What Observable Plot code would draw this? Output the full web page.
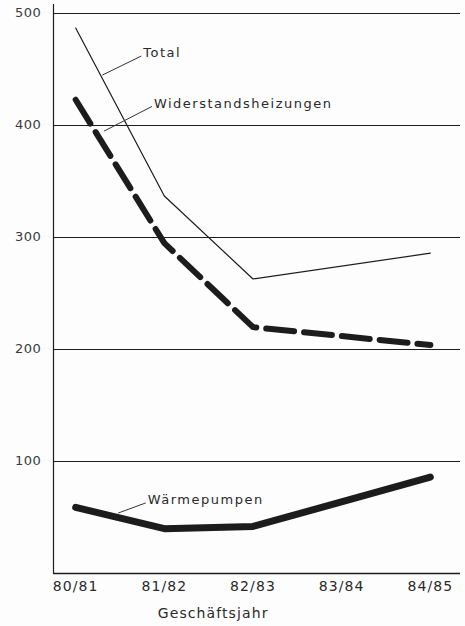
<!DOCTYPE html>
<html>
<head>
<meta charset="utf-8">
<script src="https://cdn.jsdelivr.net/npm/d3@7"></script>
<script src="https://cdn.jsdelivr.net/npm/@observablehq/plot@0.6"></script>
<style>
  html, body { margin: 0; padding: 0; background: #fdfdfd; }
  #chart svg { display: block; background: #fdfdfd; }
  #chart svg text { letter-spacing: 0.6px; }
  #chart svg .ann text { letter-spacing: 1.5px; }
  #chart svg .xlab text { letter-spacing: 1.1px; }
</style>
</head>
<body>
<div id="chart"></div>
<script>
// Categories (Geschäftsjahr)
const years = ["80/81", "81/82", "82/83", "83/84", "84/85"];
// Series values (no points drawn for 83/84 in the original; lines run straight)
const totalIdx = [0, 1, 2, 4];
const totalVals = [487, 337, 263, 286];
const widerIdx = [0, 1, 2, 4];
const widerVals = [423, 295, 220, 204];
const waermeIdx = [0, 1, 2, 4];
const waermeVals = [59, 40, 42, 86];
// y ticks / gridlines
const yTicks = [100, 200, 300, 400, 500];
// Annotation labels (data space): anchor on line -> text
const annLabels = ["Total", "Widerstandsheizungen", "Wärmepumpen"];
const annX1 = [0.30, 0.32, 0.48];
const annY1 = [445, 395, 54];
const annX2 = [0.74, 0.86, 0.79];
const annY2 = [462, 417, 63];

const toRows = (idx, vals, name) => idx.map((i, k) => ({ i, v: vals[k], name }));
const total = toRows(totalIdx, totalVals, "Total");
const wider = toRows(widerIdx, widerVals, "Widerstandsheizungen");
const waerme = toRows(waermeIdx, waermeVals, "Wärmepumpen");
const ann = annLabels.map((t, k) => ({ t, x1: annX1[k], y1: annY1[k], x2: annX2[k], y2: annY2[k] }));

const ink = "#1c1c1c";
const fontFam = "'DejaVu Sans', sans-serif";

const chart = Plot.plot({
  width: 465,
  height: 626,
  marginTop: 13,
  marginBottom: 53,
  marginLeft: 53,
  marginRight: 5,
  style: { fontFamily: fontFam, background: "#fdfdfd" },
  x: { type: "linear", domain: [-0.25, 4.34] },
  y: { domain: [0, 500] },
  marks: [
    Plot.ruleY(yTicks, { stroke: ink, strokeWidth: 1 }),
    Plot.ruleY([0], { stroke: ink, strokeWidth: 1.3 }),
    Plot.ruleX([-0.25], { y1: 0, y2: 508, stroke: ink, strokeWidth: 1.2 }),
    Plot.axisY(yTicks, {
      tickSize: 0, tickPadding: 12, fontSize: 13, fill: "#3a3a3a",
      label: null, dy: -1
    }),
    Plot.axisX(d3.range(years.length), {
      tickSize: 0, tickPadding: 8, fontSize: 14, fill: "#2a2a2a",
      tickFormat: (d) => years[d], label: null, className: "xlab"
    }),
    Plot.text(["Geschäftsjahr"], {
      frameAnchor: "bottom", dy: 44, x: 1.55, fontSize: 14, fill: "#2a2a2a",
      textAnchor: "middle", className: "xlab"
    }),
    // lines
    Plot.line(total, { x: "i", y: "v", stroke: ink, strokeWidth: 1.2 }),
    Plot.line(wider, {
      x: "i", y: "v", stroke: ink, strokeWidth: 6,
      strokeDasharray: "28,10", strokeLinejoin: "round"
    }),
    Plot.line(waerme, { x: "i", y: "v", stroke: ink, strokeWidth: 7, strokeLinejoin: "round" }),
    // annotation leaders
    Plot.link(ann, { x1: "x1", y1: "y1", x2: "x2", y2: "y2", stroke: "#333", strokeWidth: 1 }),
    Plot.text(ann, {
      x: "x2", y: "y2", text: "t", textAnchor: "start", dx: 2, dy: -3,
      fontSize: 13, fill: "#2a2a2a", className: "ann"
    })
  ]
});
document.getElementById("chart").appendChild(chart);
</script>
</body>
</html>
